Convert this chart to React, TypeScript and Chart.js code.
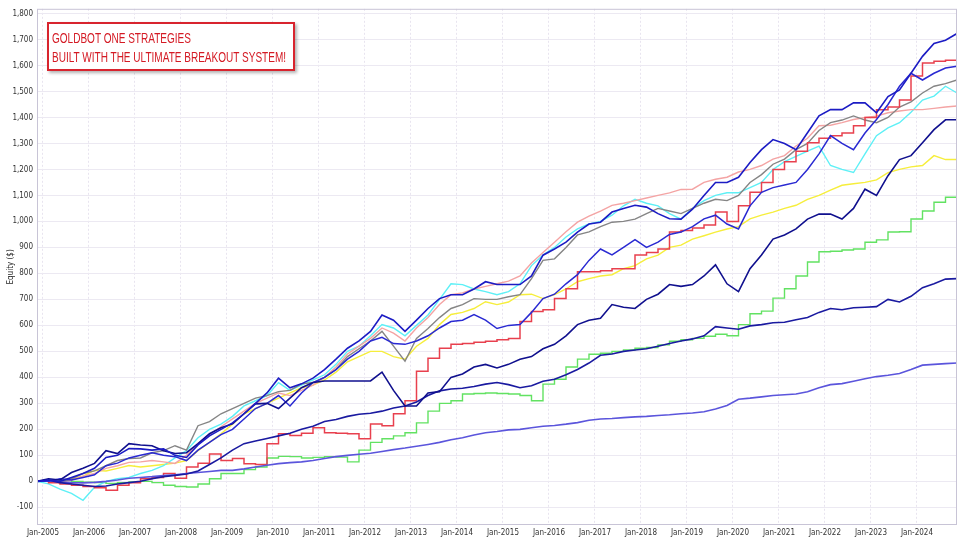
import React, { useEffect, useRef } from "react";
import { Chart, registerables } from "chart.js";

Chart.register(...registerables);

// ---- axis / time grid ----
const X_START = 2004.87; // first data point (late 2004)
const X_STEP = 0.25; // quarterly points
const X_MIN = 2004.87;
const X_MAX = 2024.87;
const Y_MIN = -168;
const Y_MAX = 1818;
const YEAR_TICKS = [
  2005, 2006, 2007, 2008, 2009, 2010, 2011, 2012, 2013, 2014,
  2015, 2016, 2017, 2018, 2019, 2020, 2021, 2022, 2023, 2024,
];
const EQUITY_TICKS = [
  -100, 0, 100, 200, 300, 400, 500, 600, 700, 800, 900, 1000,
  1100, 1200, 1300, 1400, 1500, 1600, 1700, 1800,
];

const Y_TITLE = "Equity ($)";
const BANNER_LINES = ["GOLDBOT ONE STRATEGIES", "BUILT WITH THE ULTIMATE BREAKOUT SYSTEM!"];

// ---- equity series (quarterly, start + 4 per year 2005..2024) ----
const blueTop = [
  0,
  5, 0, 15, 30,
  50, 92, 100, 126,
  125, 120, 125, 100,
  92, 140, 175, 200,
  225, 260, 300, 340,
  397, 360, 375, 397,
  430, 470, 512, 540,
  577, 640, 620, 577,
  620, 665, 703, 718,
  718, 740, 768, 757,
  757, 757, 790, 870,
  894, 920, 959, 990,
  997, 1036, 1050, 1062,
  1055, 1030, 1010, 1009,
  1047, 1100, 1150, 1150,
  1170, 1227, 1276, 1315,
  1300, 1276, 1341, 1406,
  1430, 1430, 1456, 1456,
  1418, 1480, 1506, 1570,
  1635, 1685, 1697, 1723,
];

const blueSecond = [
  0,
  0, 10, 5, 15,
  25, 60, 70, 90,
  100, 110, 100, 95,
  80, 120, 150, 180,
  200, 240, 280, 300,
  330, 290, 340, 380,
  400, 430, 470, 500,
  540, 554, 530, 527,
  540, 560, 590, 615,
  620, 642, 620, 588,
  600, 603, 650, 703,
  720, 760, 795, 850,
  894, 871, 900, 930,
  900, 920, 950, 959,
  980, 1010, 1024, 990,
  971, 1060, 1112, 1130,
  1140, 1150, 1200, 1260,
  1330, 1300, 1276, 1340,
  1392, 1450, 1520, 1570,
  1544, 1570, 1590, 1597,
];

const navyDark = [
  0,
  10, 5, 34, 50,
  69, 118, 107, 145,
  140, 137, 118, 107,
  110, 145, 183, 206,
  221, 260, 298, 300,
  280, 320, 360, 380,
  386, 386, 386, 386,
  386, 420, 350, 290,
  290, 340, 345, 400,
  413, 440, 450, 436,
  450, 470, 480, 510,
  527, 560, 603, 620,
  627, 680, 670, 665,
  700, 720, 757, 750,
  757, 790, 833, 760,
  730, 818, 871, 932,
  948, 971, 1009, 1028,
  1028, 1009, 1050, 1124,
  1100, 1176, 1238, 1253,
  1303, 1353, 1391, 1391,
];

const navyMid = [
  0,
  5, -5, -10, -15,
  -20, -18, -10, -5,
  0, 10, 18, 23,
  28, 40, 65, 90,
  120, 145, 155, 165,
  175, 185, 200, 212,
  230, 238, 250, 258,
  262, 270, 282, 290,
  305, 330, 348, 355,
  358, 365, 374, 380,
  372, 360, 368, 385,
  393, 410, 430, 455,
  485, 490, 500, 505,
  510, 520, 530, 540,
  548, 560, 595, 590,
  585, 598, 603, 610,
  612, 622, 630, 650,
  665, 660, 668, 670,
  672, 700, 690, 712,
  745, 760, 778, 780,
];

const slate = [
  0,
  2, -3, -5, -6,
  -4, 0, 5, 12,
  15, 18, 22, 25,
  30, 34, 38, 42,
  42, 48, 55, 62,
  68, 72, 75, 80,
  88, 95, 100, 104,
  108, 115, 122, 128,
  135, 142, 150, 160,
  168, 178, 187, 192,
  198, 200, 206, 212,
  215, 220, 226, 235,
  240, 242, 245, 248,
  250, 253, 256, 260,
  263, 268, 278, 292,
  316, 320, 325, 330,
  333, 336, 345, 360,
  372, 376, 385, 395,
  403, 408, 415, 430,
  447, 450, 453, 455,
];

const green = [
  0,
  5, 3, 0, -3,
  -5, -8, -5, -2,
  0, -5, -15, -20,
  -22, -10, 10, 30,
  30, 45, 55, 90,
  96, 95, 90, 92,
  95, 93, 75, 120,
  150, 164, 175, 187,
  225, 270, 300, 310,
  336, 338, 340, 338,
  336, 330, 310, 374,
  393, 440, 470, 489,
  493, 500, 505, 512,
  515, 525, 539, 545,
  550, 558, 566, 560,
  603, 645, 655, 705,
  741, 790, 844, 883,
  885, 890, 894, 920,
  929, 959, 960, 1009,
  1040, 1074, 1093, 1082,
];

const red = [
  0,
  -5, -10, -15, -20,
  -25, -34, -15, -5,
  10, 15, 30, 12,
  55, 70, 105, 80,
  88, 68, 65, 145,
  183, 176, 185, 206,
  187, 185, 183, 164,
  221, 214, 260, 310,
  424, 474, 512, 527,
  530, 535, 539, 545,
  550, 615, 653, 660,
  703, 741, 806, 806,
  810, 818, 818, 871,
  880, 894, 959, 965,
  975, 986, 1036, 1000,
  1060, 1112, 1150, 1200,
  1230, 1270, 1303, 1320,
  1330, 1340, 1368, 1400,
  1430, 1440, 1467, 1559,
  1609, 1616, 1620, 1624,
];

const gray = [
  0,
  0, -5, 10, 30,
  40, 60, 80, 88,
  90, 110, 118, 137,
  120, 214, 230, 260,
  280, 300, 320, 330,
  345, 350, 375, 380,
  400, 430, 480, 510,
  540, 577, 520, 462,
  550, 588, 630, 665,
  680, 703, 700, 700,
  710, 718, 780, 850,
  856, 900, 948, 960,
  980, 997, 1000, 1009,
  1030, 1050, 1040, 1030,
  1050, 1070, 1085, 1080,
  1100, 1150, 1180, 1220,
  1240, 1276, 1300, 1350,
  1380, 1390, 1406, 1390,
  1380, 1400, 1440, 1460,
  1494, 1520, 1530, 1544,
];

const cyan = [
  0,
  -10, -30, -46, -73,
  -23, 0, 10, 15,
  30, 42, 60, 90,
  118, 168, 200, 220,
  250, 290, 310, 330,
  380, 350, 370, 390,
  410, 450, 500, 520,
  560, 603, 590, 560,
  600, 640, 700, 760,
  757, 740, 730, 718,
  730, 760, 830, 871,
  900, 940, 971, 990,
  1000, 1024, 1060, 1085,
  1070, 1060, 1030, 1009,
  1050, 1080, 1100, 1110,
  1110, 1130, 1150, 1200,
  1230, 1250, 1270, 1290,
  1215, 1200, 1188, 1260,
  1330, 1360, 1380, 1420,
  1467, 1482, 1520, 1494,
];

const pink = [
  0,
  0, -5, 5, 20,
  30, 50, 60, 73,
  75, 80, 75, 69,
  100, 145, 180, 210,
  240, 270, 300, 320,
  340, 330, 350, 370,
  400, 440, 490, 520,
  550, 590, 570, 540,
  590, 630, 680, 718,
  725, 740, 750, 760,
  770, 790, 840, 880,
  920, 960, 997, 1020,
  1040, 1062, 1070, 1080,
  1090, 1100, 1110, 1123,
  1124, 1150, 1162, 1170,
  1190, 1200, 1215, 1240,
  1253, 1290, 1320, 1368,
  1370, 1380, 1392, 1400,
  1405, 1418, 1425, 1430,
  1430, 1435, 1440, 1444,
];

const yellow = [
  0,
  0, 5, 10, 20,
  42, 40, 50, 61,
  55, 60, 65, 70,
  80, 118, 150, 183,
  220, 260, 280, 300,
  320, 340, 360, 370,
  390, 420, 460, 480,
  500, 500, 480, 470,
  520, 550, 603, 642,
  650, 665, 691, 680,
  690, 718, 720, 703,
  718, 740, 768, 780,
  790, 795, 818, 830,
  856, 870, 900, 909,
  932, 945, 959, 971,
  980, 1010, 1024, 1036,
  1050, 1062, 1085, 1100,
  1120, 1139, 1145, 1150,
  1160, 1188, 1200, 1210,
  1215, 1253, 1238, 1238,
];

// first in list = drawn on top
const SERIES = [
  { name: "Strategy 1", data: blueTop, color: "#1c1cc4", width: 1.6, stepped: false },
  { name: "Strategy 2", data: navyDark, color: "#10108e", width: 1.6, stepped: false },
  { name: "Strategy 3", data: blueSecond, color: "#2a2ad2", width: 1.5, stepped: false },
  { name: "Strategy 4", data: navyMid, color: "#1a1aa0", width: 1.6, stepped: false },
  { name: "Strategy 5", data: slate, color: "#5b55dc", width: 1.6, stepped: false },
  { name: "Strategy 6", data: red, color: "#e8404e", width: 1.5, stepped: true },
  { name: "Strategy 7", data: gray, color: "#858585", width: 1.4, stepped: false },
  { name: "Strategy 8", data: pink, color: "#f4a4a4", width: 1.4, stepped: false },
  { name: "Strategy 9", data: cyan, color: "#5ef0f6", width: 1.4, stepped: false },
  { name: "Strategy 10", data: green, color: "#62e262", width: 1.4, stepped: true },
  { name: "Strategy 11", data: yellow, color: "#f6ee3c", width: 1.4, stepped: false },
];

const TICK_FONT = { family: "'Liberation Sans Narrow', 'DejaVu Sans Condensed', 'Liberation Sans', Arial, sans-serif", size: 8 };

const borderPlugin = {
  id: "plotBorder",
  afterDatasetsDraw(chart: any) {
    const { ctx, chartArea: a } = chart;
    ctx.save();
    ctx.strokeStyle = "#c8c4d6";
    ctx.lineWidth = 1;
    ctx.strokeRect(a.left + 0.5, a.top + 0.5, a.right - a.left - 1, a.bottom - a.top - 1);
    ctx.restore();
  },
};

export default function App() {
  const canvasRef = useRef<HTMLCanvasElement | null>(null);
  const line1Ref = useRef<HTMLDivElement | null>(null);
  const line2Ref = useRef<HTMLDivElement | null>(null);

  useEffect(() => {
    document.body.style.margin = "0";
    const canvas = canvasRef.current;
    if (!canvas) return;

    const datasets = SERIES.map((s) => ({
      label: s.name,
      data: s.data.map((v, i) => ({ x: X_START + i * X_STEP, y: v })),
      borderColor: s.color,
      backgroundColor: s.color,
      borderWidth: s.width,
      pointRadius: 0,
      tension: 0,
      stepped: s.stepped,
      fill: false,
    }));

    const chart = new Chart(canvas, {
      type: "line",
      data: { datasets },
      plugins: [borderPlugin],
      options: {
        animation: false,
        responsive: false,
        events: [],
        layout: { padding: { top: 5, right: 3, left: 0, bottom: 0 } },
        plugins: { legend: { display: false }, tooltip: { enabled: false }, title: { display: false } },
        scales: {
          x: {
            type: "linear",
            min: X_MIN,
            max: X_MAX,
            afterBuildTicks: (scale: any) => {
              scale.ticks = YEAR_TICKS.map((v) => ({ value: v }));
            },
            afterFit: (scale: any) => {
              scale.height = 15;
            },
            ticks: {
              autoSkip: false,
              maxRotation: 0,
              minRotation: 0,
              padding: 3,
              color: "#333333",
              font: TICK_FONT,
              callback: (v: any) => "Jan-" + v,
            },
            grid: { color: "#e8e4ef", drawTicks: false, lineWidth: 1, borderDash: [2, 2] } as any,
            border: { display: false, dash: [2, 2] },
          },
          y: {
            type: "linear",
            min: Y_MIN,
            max: Y_MAX,
            afterBuildTicks: (scale: any) => {
              scale.ticks = EQUITY_TICKS.map((v) => ({ value: v }));
            },
            afterFit: (scale: any) => {
              scale.width = 37;
            },
            ticks: {
              padding: 4,
              color: "#333333",
              font: TICK_FONT,
              callback: (v: any) => Number(v).toLocaleString("en-US"),
            },
            title: {
              display: true,
              text: Y_TITLE,
              color: "#2a2a2a",
              font: TICK_FONT,
              padding: { top: 6, bottom: 0 },
            },
            grid: { color: "#ece9f2", drawTicks: false, lineWidth: 1 },
            border: { display: false },
          },
        },
      },
    } as any);

    // fit banner text to the reference widths
    const l1 = line1Ref.current;
    const l2 = line2Ref.current;
    if (l1 && l2) {
      const w2 = l2.scrollWidth || 1;
      const sx = 234 / w2;
      l1.style.transform = `scaleX(${sx})`;
      l2.style.transform = `scaleX(${sx})`;
    }

    return () => chart.destroy();
  }, []);

  const lineStyle: React.CSSProperties = {
    position: "absolute",
    left: 3,
    whiteSpace: "nowrap",
    transformOrigin: "left top",
    fontFamily: "'Liberation Sans', Arial, sans-serif",
    fontSize: 15,
    lineHeight: "19px",
    color: "#d41a24",
    display: "inline-block",
  };

  return (
    <div style={{ position: "absolute", left: 0, top: 0, width: 960, height: 540, background: "#ffffff", overflow: "hidden" }}>
      <canvas ref={canvasRef} width={960} height={540} style={{ display: "block", width: 960, height: 540 }} />
      <div
        style={{
          position: "absolute",
          left: 47,
          top: 22,
          width: 248,
          height: 49,
          boxSizing: "border-box",
          border: "2px solid #d8242e",
          background: "#ffffff",
          boxShadow: "2px 2px 3px rgba(0,0,0,0.3)",
        }}
      >
        <div ref={line1Ref} style={{ ...lineStyle, top: 4 }}>{BANNER_LINES[0]}</div>
        <div ref={line2Ref} style={{ ...lineStyle, top: 23 }}>{BANNER_LINES[1]}</div>
      </div>
    </div>
  );
}
